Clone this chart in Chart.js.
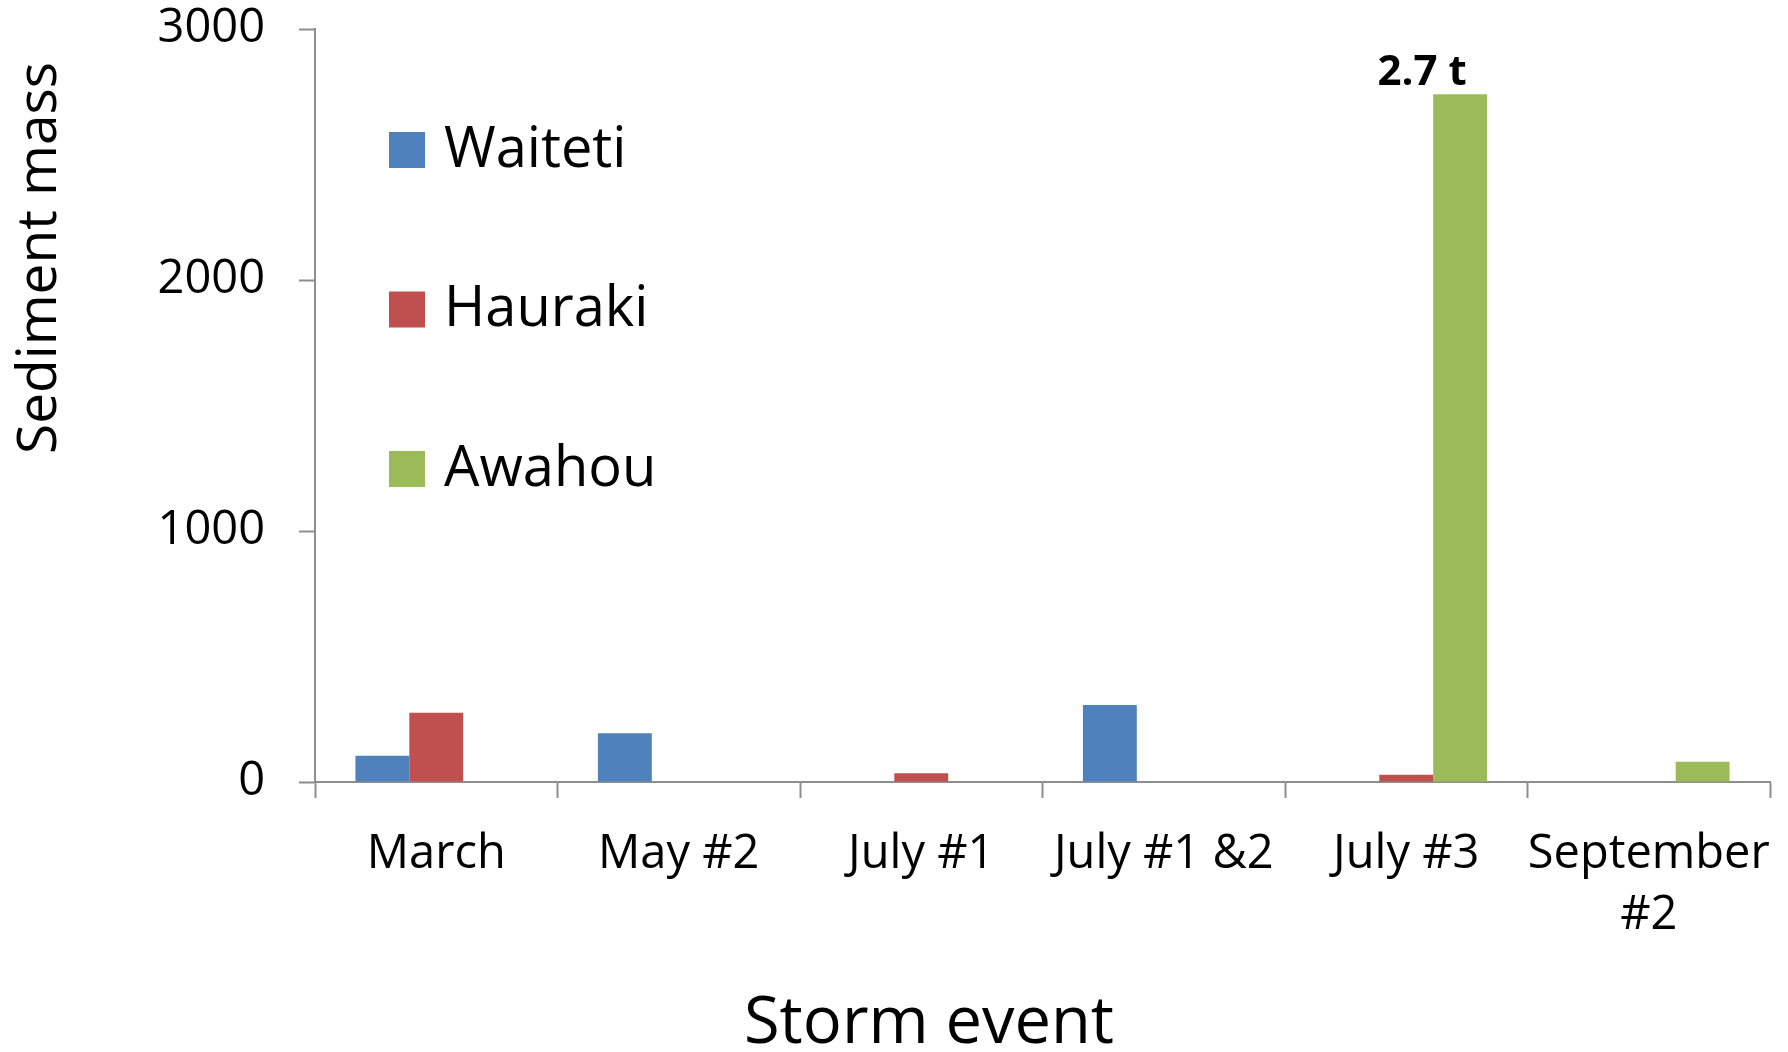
<!DOCTYPE html>
<html>
<head>
<meta charset="utf-8">
<title>Sediment mass by storm event</title>
<script src="https://cdn.jsdelivr.net/npm/chart.js@4"></script>
<style>
  html, body { margin: 0; padding: 0; background: #fff; }
  #wrap { width: 1788px; height: 1052px; }
</style>
</head>
<body>
<div id="wrap"><canvas id="sedimentChart" width="1788" height="1052"></canvas></div>
<script>
// Sediment mass per storm event, one series per stream
const categories = ['March', 'May #2', 'July #1', 'July #1 &2', 'July #3', 'September #2'];
const waiteti = [105, 194, null, 307, null, null];
const hauraki = [276, null, 35, null, 29, null];
const awahou = [null, null, null, null, 2740, 81];
const yTicks = [0, 1000, 2000, 3000];

const FONT = '"Open Sans", "Noto Sans", sans-serif';
const AXIS_GREY = '#8e8e8e';

// legend drawn inside the plot area, stacked with wide gaps
const insideLegend = {
    id: 'insideLegend',
    afterDraw(chart) {
        const ctx = chart.ctx;
        const area = chart.chartArea;
        ctx.save();
        ctx.font = '56px ' + FONT;
        ctx.textBaseline = 'middle';
        ctx.textAlign = 'left';
        chart.data.datasets.forEach((ds, i) => {
            const cy = area.top + 121 + i * 159.5;
            const bx = area.left + 74;
            ctx.fillStyle = ds.backgroundColor;
            ctx.fillRect(bx, cy - 18, 36, 36);
            ctx.fillStyle = '#000';
            ctx.fillText(ds.label, bx + 55, cy + 1);
        });
        ctx.restore();
    }
};

// tonnage note above the tallest bar
const peakLabel = {
    id: 'peakLabel',
    afterDatasetsDraw(chart) {
        let best = null;
        chart.data.datasets.forEach((ds, di) => {
            ds.data.forEach((v, i) => {
                if (v != null && (!best || v > best.v)) best = { v, di, i };
            });
        });
        if (!best) return;
        const bar = chart.getDatasetMeta(best.di).data[best.i];
        const ctx = chart.ctx;
        ctx.save();
        ctx.font = 'bold 42px ' + FONT;
        ctx.fillStyle = '#000';
        ctx.textAlign = 'center';
        ctx.textBaseline = 'alphabetic';
        ctx.fillText((best.v / 1000).toFixed(1) + ' t', bar.x - 38, bar.y - 9);
        ctx.restore();
    }
};

// axis titles: the y one sits above the axis middle, the x one right of it
const axisTitles = {
    id: 'axisTitles',
    afterDraw(chart) {
        const ctx = chart.ctx;
        ctx.save();
        ctx.fillStyle = '#000';
        ctx.textAlign = 'center';
        ctx.textBaseline = 'alphabetic';

        ctx.font = '65px ' + FONT;
        ctx.fillText('Storm event', 929, 1043);

        ctx.translate(56, 258);
        ctx.rotate(-Math.PI / 2);
        ctx.font = '55px ' + FONT;
        ctx.fillText('Sediment mass', 0, 0);
        ctx.restore();
    }
};

const ctx = document.getElementById('sedimentChart').getContext('2d');
new Chart(ctx, {
    type: 'bar',
    data: {
        labels: categories,
        datasets: [
            { label: 'Waiteti', data: waiteti, backgroundColor: '#4f81bd' },
            { label: 'Hauraki', data: hauraki, backgroundColor: '#c0504d' },
            { label: 'Awahou', data: awahou, backgroundColor: '#9bbb59' }
        ]
    },
    options: {
        responsive: false,
        devicePixelRatio: 1,
        animation: false,
        layout: { padding: { left: 0, top: 29, right: 18, bottom: 0 } },
        datasets: {
            bar: { categoryPercentage: 1 / 1.5, barPercentage: 1, borderWidth: 0 }
        },
        plugins: {
            legend: { display: false },
            tooltip: { enabled: false }
        },
        scales: {
            x: {
                afterFit: scale => {
                    scale.height = 270;
                    scale.paddingLeft = 0;
                    scale.paddingRight = 0;
                },
                border: { color: AXIS_GREY, width: 2 },
                grid: {
                    offset: true,
                    drawOnChartArea: false,
                    drawTicks: true,
                    tickLength: 16,
                    tickColor: AXIS_GREY,
                    tickWidth: 2
                },
                ticks: {
                    color: '#000',
                    padding: 27,
                    maxRotation: 0,
                    autoSkip: false,
                    font: { family: FONT, size: 47, lineHeight: 1.28 },
                    callback: function (value) {
                        const label = this.getLabelForValue(value);
                        if (label.length > 10) {
                            const cut = label.lastIndexOf(' ');
                            return [label.slice(0, cut), label.slice(cut + 1)];
                        }
                        return label;
                    }
                }
            },
            y: {
                min: 0,
                max: 3000,
                afterFit: scale => {
                    scale.width = 315;
                    scale.paddingTop = 0;
                    scale.paddingBottom = 0;
                },
                afterBuildTicks: scale => { scale.ticks = yTicks.map(v => ({ value: v })); },
                border: { color: AXIS_GREY, width: 2 },
                grid: {
                    drawOnChartArea: false,
                    drawTicks: true,
                    tickLength: 16,
                    tickColor: AXIS_GREY,
                    tickWidth: 2
                },
                ticks: {
                    color: '#000',
                    padding: 34,
                    font: { family: FONT, size: 47 },
                    callback: value => String(value)
                }
            }
        }
    },
    plugins: [insideLegend, peakLabel, axisTitles]
});
</script>
</body>
</html>
